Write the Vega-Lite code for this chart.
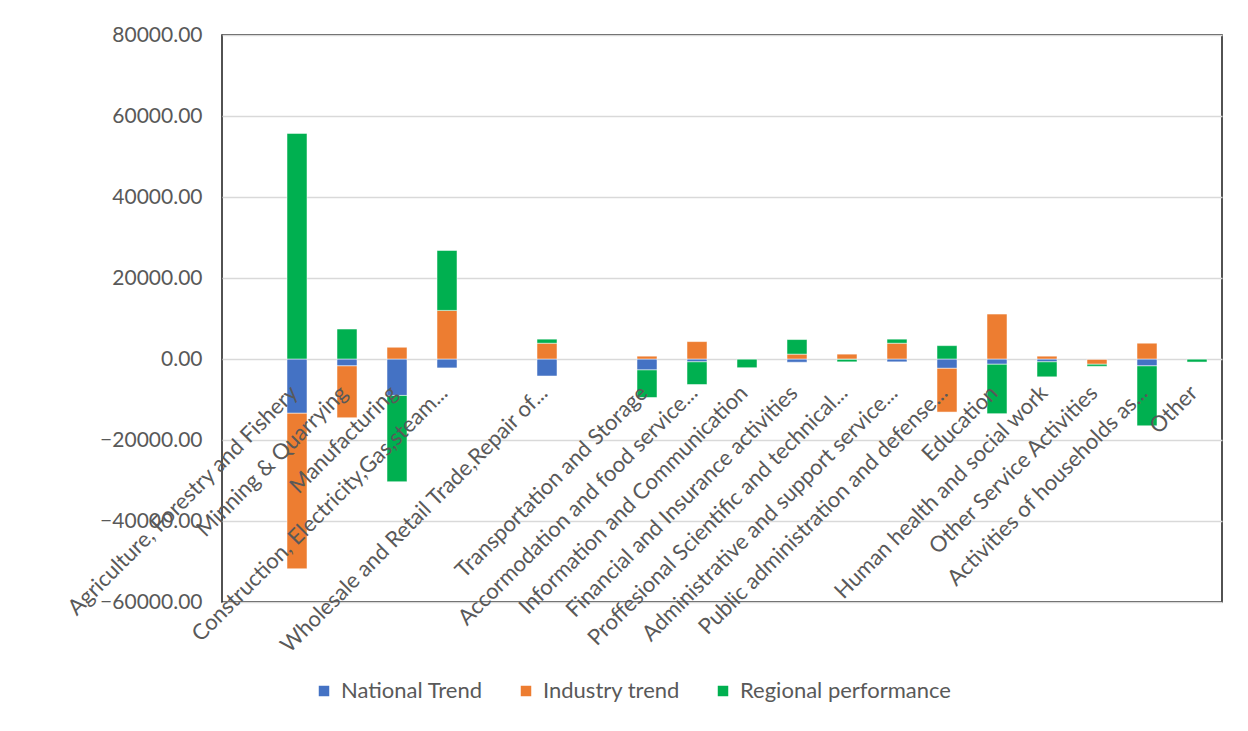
{
  "$schema": "https://vega.github.io/schema/vega-lite/v6.json",
  "width": 1000,
  "height": 567,
  "autosize": "none",
  "padding": {"left": 222, "top": 35, "right": 26, "bottom": 129},
  "background": "white",
  "config": {
    "font": "Lato",
    "view": {"stroke": "#1a1a1a", "strokeWidth": 1.5},
    "axis": {"labelFont": "Lato", "labelColor": "#595959"},
    "legend": {"labelFont": "Lato", "labelColor": "#595959"}
  },
  "data": {
    "values": [
      {"industry": "Agriculture, Forestry and Fishery", "series": "National Trend", "k": 1, "value": -13400},
      {"industry": "Agriculture, Forestry and Fishery", "series": "Industry trend", "k": 2, "value": -38400},
      {"industry": "Agriculture, Forestry and Fishery", "series": "Regional performance", "k": 3, "value": 55700},
      {"industry": "Minning & Quarrying", "series": "National Trend", "k": 1, "value": -1700},
      {"industry": "Minning & Quarrying", "series": "Industry trend", "k": 2, "value": -12800},
      {"industry": "Minning & Quarrying", "series": "Regional performance", "k": 3, "value": 7400},
      {"industry": "Manufacturing", "series": "National Trend", "k": 1, "value": -9000},
      {"industry": "Manufacturing", "series": "Industry trend", "k": 2, "value": 2900},
      {"industry": "Manufacturing", "series": "Regional performance", "k": 3, "value": -21300},
      {"industry": "Construction, Electricity,Gas,steam...", "series": "National Trend", "k": 1, "value": -2200},
      {"industry": "Construction, Electricity,Gas,steam...", "series": "Industry trend", "k": 2, "value": 12000},
      {"industry": "Construction, Electricity,Gas,steam...", "series": "Regional performance", "k": 3, "value": 14800},
      {"industry": "Wholesale and Retail Trade,Repair of...", "series": "National Trend", "k": 1, "value": -4200},
      {"industry": "Wholesale and Retail Trade,Repair of...", "series": "Industry trend", "k": 2, "value": 3900},
      {"industry": "Wholesale and Retail Trade,Repair of...", "series": "Regional performance", "k": 3, "value": 1000},
      {"industry": "Transportation and Storage", "series": "National Trend", "k": 1, "value": -2700},
      {"industry": "Transportation and Storage", "series": "Industry trend", "k": 2, "value": 700},
      {"industry": "Transportation and Storage", "series": "Regional performance", "k": 3, "value": -6800},
      {"industry": "Accormodation and food service...", "series": "National Trend", "k": 1, "value": -700},
      {"industry": "Accormodation and food service...", "series": "Industry trend", "k": 2, "value": 4300},
      {"industry": "Accormodation and food service...", "series": "Regional performance", "k": 3, "value": -5600},
      {"industry": "Information and Communication", "series": "National Trend", "k": 1, "value": -50},
      {"industry": "Information and Communication", "series": "Industry trend", "k": 2, "value": 0},
      {"industry": "Information and Communication", "series": "Regional performance", "k": 3, "value": -2100},
      {"industry": "Financial and Insurance activities", "series": "National Trend", "k": 1, "value": -800},
      {"industry": "Financial and Insurance activities", "series": "Industry trend", "k": 2, "value": 1200},
      {"industry": "Financial and Insurance activities", "series": "Regional performance", "k": 3, "value": 3600},
      {"industry": "Proffesional Scientific and technical...", "series": "National Trend", "k": 1, "value": -100},
      {"industry": "Proffesional Scientific and technical...", "series": "Industry trend", "k": 2, "value": 1200},
      {"industry": "Proffesional Scientific and technical...", "series": "Regional performance", "k": 3, "value": -600},
      {"industry": "Administrative and support service...", "series": "National Trend", "k": 1, "value": -700},
      {"industry": "Administrative and support service...", "series": "Industry trend", "k": 2, "value": 3900},
      {"industry": "Administrative and support service...", "series": "Regional performance", "k": 3, "value": 1000},
      {"industry": "Public administration and defense...", "series": "National Trend", "k": 1, "value": -2300},
      {"industry": "Public administration and defense...", "series": "Industry trend", "k": 2, "value": -10800},
      {"industry": "Public administration and defense...", "series": "Regional performance", "k": 3, "value": 3300},
      {"industry": "Education", "series": "National Trend", "k": 1, "value": -1300},
      {"industry": "Education", "series": "Industry trend", "k": 2, "value": 11100},
      {"industry": "Education", "series": "Regional performance", "k": 3, "value": -12200},
      {"industry": "Human health and social work", "series": "National Trend", "k": 1, "value": -700},
      {"industry": "Human health and social work", "series": "Industry trend", "k": 2, "value": 700},
      {"industry": "Human health and social work", "series": "Regional performance", "k": 3, "value": -3700},
      {"industry": "Other  Service Activities", "series": "National Trend", "k": 1, "value": -100},
      {"industry": "Other  Service Activities", "series": "Industry trend", "k": 2, "value": -1200},
      {"industry": "Other  Service Activities", "series": "Regional performance", "k": 3, "value": -500},
      {"industry": "Activities of households as...", "series": "National Trend", "k": 1, "value": -1700},
      {"industry": "Activities of households as...", "series": "Industry trend", "k": 2, "value": 3900},
      {"industry": "Activities of households as...", "series": "Regional performance", "k": 3, "value": -14800},
      {"industry": "Other", "series": "National Trend", "k": 1, "value": -50},
      {"industry": "Other", "series": "Industry trend", "k": 2, "value": 0},
      {"industry": "Other", "series": "Regional performance", "k": 3, "value": -700}
    ]
  },
  "mark": {"type": "bar", "stroke": "white", "strokeWidth": 0.5},
  "encoding": {
    "x": {
      "field": "industry",
      "type": "nominal",
      "scale": {
        "domain": [" ", "Agriculture, Forestry and Fishery", "Minning & Quarrying", "Manufacturing", "Construction, Electricity,Gas,steam...", "  ", "Wholesale and Retail Trade,Repair of...", "   ", "Transportation and Storage", "Accormodation and food service...", "Information and Communication", "Financial and Insurance activities", "Proffesional Scientific and technical...", "Administrative and support service...", "Public administration and defense...", "Education", "Human health and social work", "Other  Service Activities", "Activities of households as...", "Other"],
        "paddingInner": 0.6,
        "paddingOuter": 0.3
      },
      "axis": {
        "title": null,
        "orient": "bottom",
        "offset": -243,
        "domain": false,
        "ticks": false,
        "grid": false,
        "labelAngle": -45,
        "labelBaseline": "middle",
        "labelAlign": "right",
        "labelFontSize": 22,
        "labelPadding": 30,
        "labelOffset": -3,
        "labelLimit": 0,
        "labelOverlap": false,
        "labelBound": false,
        "zindex": 1
      }
    },
    "y": {
      "field": "value",
      "type": "quantitative",
      "stack": "zero",
      "scale": {"domain": [-60000, 80000], "nice": false, "zero": false},
      "axis": {
        "title": null,
        "values": [-60000, -40000, -20000, 0, 20000, 40000, 60000, 80000],
        "format": ".2f",
        "domain": false,
        "ticks": false,
        "labelFontSize": 21,
        "labelPadding": 20,
        "gridColor": "#d9d9d9",
        "gridWidth": 1.5
      }
    },
    "color": {
      "field": "series",
      "type": "nominal",
      "scale": {
        "domain": ["National Trend", "Industry trend", "Regional performance"],
        "range": ["#4472C4", "#ED7D31", "#00B050"]
      },
      "legend": {
        "title": null,
        "orient": "none",
        "direction": "horizontal",
        "legendX": 91,
        "legendY": 645,
        "symbolType": "square",
        "symbolSize": 110,
        "symbolStrokeWidth": 0,
        "labelFontSize": 22,
        "labelLimit": 0,
        "columnPadding": 32,
        "labelOffset": 6
      }
    },
    "order": {"field": "k", "type": "quantitative"}
  }
}
